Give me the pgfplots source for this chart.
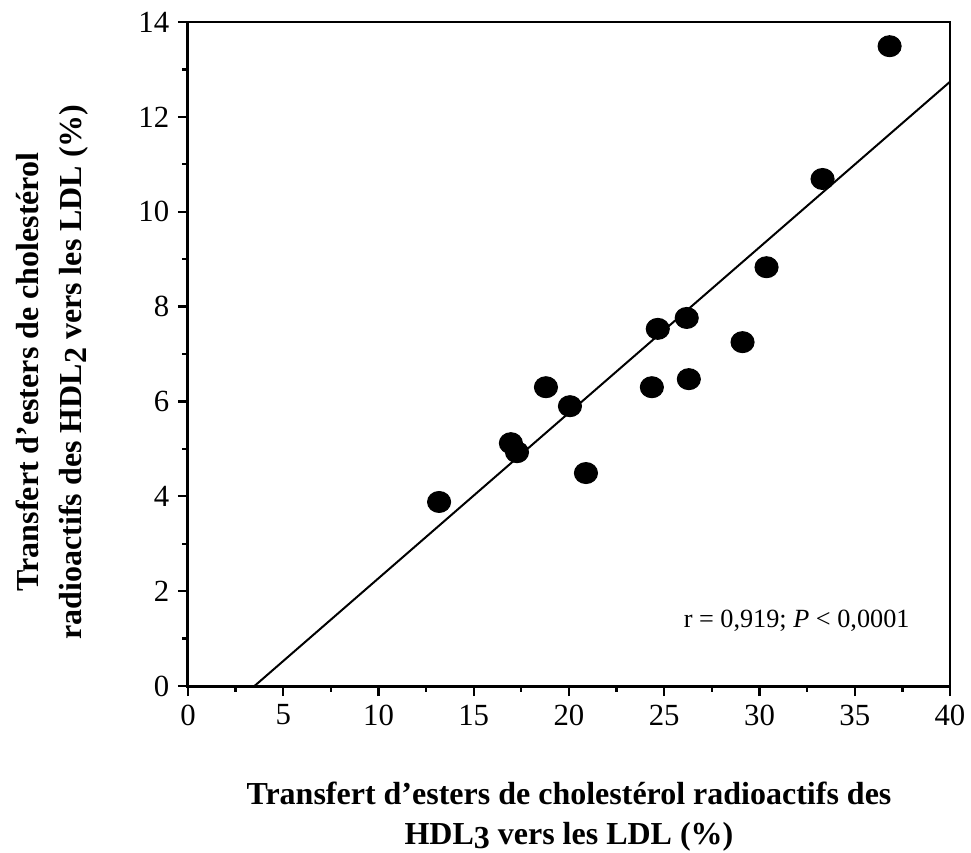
\documentclass[border=0pt]{standalone}
\usepackage{fontspec}
\setmainfont{Liberation Serif}
\usepackage{pgfplots}
\pgfplotsset{compat=1.18}
\begin{document}
\begin{tikzpicture}
\begin{axis}[
  scale only axis, width=304.8pt, height=265.6pt,
  xmin=0, xmax=40, ymin=0, ymax=14,
  xtick={0,5,...,40}, ytick={0,2,...,14},
  minor x tick num=1, minor y tick num=1,
  tick align=outside, xtick pos=bottom, ytick pos=left,
  axis line style={line width=0.8pt, black},
  every tick/.style={line width=0.9pt, black},
  major tick length=4pt, minor tick length=2.2pt,
  ticklabel style={font=\fontsize{12.3}{14}\selectfont},
  /pgf/number format/assume math mode=true,
  clip=false,
]
\addplot[black, line width=0.8pt] coordinates {(3.49,0) (40,12.74)};
\addplot[only marks, mark=*, mark size=4.2pt, mark options={xscale=1.1, fill=black, draw=black}] coordinates {
(13.18,3.88) (16.95,5.12) (17.27,4.93) (18.79,6.30) (20.05,5.90) (20.89,4.49)
(24.35,6.30) (24.66,7.53) (26.18,7.76) (26.29,6.47) (29.11,7.25) (30.37,8.83)
(33.31,10.69) (36.83,13.49)};
\draw[line width=1.2pt, black] (rel axis cs:0,1) -- (rel axis cs:0,0) -- (rel axis cs:1,0);
\node[font=\fontsize{10.5}{12}\selectfont] at (axis cs:31.95,1.37) {r = 0,919; \textit{P} < 0,0001};
\node[font=\fontsize{12.8}{16}\selectfont\bfseries, align=center] at (rel axis cs:0.5,-0.196)
  {Transfert d’esters de cholestérol radioactifs des\\HDL\raisebox{-0.3ex}{3} vers les LDL (\%)};
\node[font=\fontsize{12.8}{17.2}\selectfont\bfseries, align=center, rotate=90] at (rel axis cs:-0.178,0.473)
  {Transfert d’esters de cholestérol\\radioactifs des HDL\raisebox{-0.3ex}{2} vers les LDL (\%)};
\coordinate (bl) at (rel axis cs:0,0);
\coordinate (tr) at (rel axis cs:1,1);
\end{axis}
\pgfresetboundingbox
\path ([shift={(-75.2pt,-66.4pt)}]bl) rectangle ([shift={(8.4pt,8.8pt)}]tr);
\end{tikzpicture}
\end{document}
